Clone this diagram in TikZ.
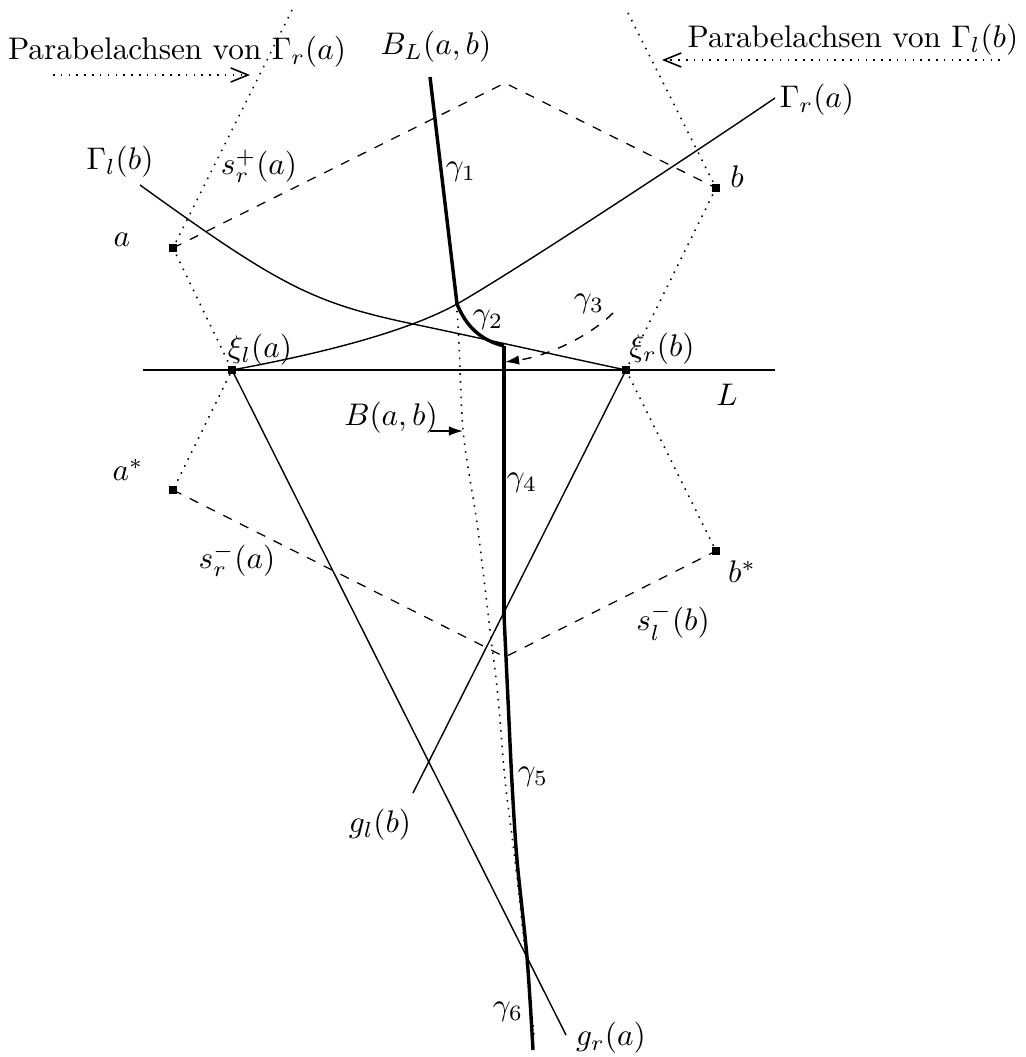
\documentclass[tikz,border=0pt]{standalone}
\usetikzlibrary{arrows.meta}
\begin{document}
\begin{tikzpicture}[x=0.32pt,y=-0.32pt,
  pt/.style={rectangle,fill=black,inner sep=0pt,minimum size=2.6pt},
  lbl/.style={inner sep=0pt},
  axisline/.style={dotted,line width=0.5pt},
  hull/.style={dashed,line width=0.4pt},
  curveline/.style={line width=0.45pt},
  bisect/.style={line width=1.1pt},
  pointer/.style={-{Latex[length=4.5pt,width=3pt]},line width=0.45pt},
  axpointer/.style={dotted,line width=0.5pt,-{Straight Barb[length=5.5pt,width=4.5pt]}}]
\useasboundingbox (0,0) rectangle (1025,1057);

% points
\node[pt] (a) at (173,248) {};
\node[pt] (b) at (716,188) {};
\node[pt] (as) at (173,490) {};
\node[pt] (bs) at (716,551) {};
\node[pt] (xl) at (232,370) {};
\node[pt] (xr) at (626,370) {};
\coordinate (top) at (505,83);
\coordinate (bot) at (505,657);
\coordinate (axa) at (292,10);
\coordinate (axb) at (628,13);
\coordinate (L1) at (143,370);
\coordinate (L2) at (775,370);
\coordinate (glend) at (413,793);
\coordinate (grend) at (566,1035);
\coordinate (Glstart) at (140,185);
\coordinate (Glmid) at (413,324);
\coordinate (Grend) at (775,98);
\coordinate (j12) at (457,304);
\coordinate (j24) at (504,346);
\coordinate (j45) at (504,615);

% line L
\draw[line width=0.8pt] (L1) -- (L2);

% dashed hulls
\draw[hull] (a.center) -- (top) -- (b.center);
\draw[hull] (as.center) -- (bot) -- (bs.center);

% parabola axes (dotted)
\draw[axisline] (axa) -- (a.center) -- (xl.center) -- (as.center);
\draw[axisline] (axb) -- (b.center) -- (xr.center) -- (bs.center);

% Gamma_l(b)
\draw[curveline] (Glstart) .. controls (280,286) and (313,303) .. (Glmid)
  .. controls (480,338) and (560,356) .. (xr.center);
% Gamma_r(a)
\draw[curveline] (xl.center) .. controls (330,352) and (410,330) .. (j12)
  .. controls (510,274) and (690,156) .. (Grend);

% g lines
\draw[curveline] (xl.center) -- (grend);
\draw[curveline] (xr.center) -- (glend);

% B(a,b) dotted
\draw[axisline] plot[smooth] coordinates {(430,78) (456,300) (463,430) (477,523) (490,630) (498,697) (505,780) (515,860) (525,950) (534,1035)};

% B_L(a,b) thick pieces
\draw[bisect] (430,77) -- (j12);
\draw[bisect] (j12) .. controls (466,326) and (480,340) .. (j24);
\draw[bisect] (j24) -- (j45);
\draw[bisect] plot[smooth] coordinates {(504,615) (508,700) (512,783) (517,860) (527,957) (533,1050)};

% gamma3 arrow
\draw[pointer,dashed] (613,313) .. controls (590,336) and (548,356) .. (505,362);

% B(a,b) arrow
\coordinate (bab1) at (430,431);
\coordinate (bab2) at (463,431);
\draw[pointer] (bab1) -- (bab2);

% Parabelachsen arrows
\coordinate (pl1) at (53,75);
\coordinate (pl2) at (250,75);
\coordinate (pr1) at (1000,60);
\coordinate (pr2) at (662,60);
\draw[axpointer] (pl1) -- (pl2);
\draw[axpointer] (pr1) -- (pr2);

% labels
\node[lbl] (tpl) at (177,52) {Parabelachsen von $\Gamma_r(a)$};
\node[lbl] (tpr) at (853,40) {Parabelachsen von $\Gamma_l(b)$};
\node[lbl] (tBL) at (436,47) {$B_L(a,b)$};
\node[lbl] (tGr) at (817,100) {$\Gamma_r(a)$};
\node[lbl] (tGl) at (120,162) {$\Gamma_l(b)$};
\node[lbl] (tsp) at (259,166) {$s_r^+(a)$};
\node[lbl] (tg1) at (461,172) {$\gamma_1$};
\node[lbl] (ta) at (122,240) {$a$};
\node[lbl] (tb) at (737,177) {$b$};
\node[lbl] (tg2) at (488,320) {$\gamma_2$};
\node[lbl] (tg3) at (589,304) {$\gamma_3$};
\node[lbl] (txl) at (260,350) {$\xi_l(a)$};
\node[lbl] (txr) at (662,349) {$\xi_r(b)$};
\node[lbl] (tL) at (727,395) {$L$};
\node[lbl] (tB) at (391,418) {$B(a,b)$};
\node[lbl] (tas) at (128,470) {$a^*$};
\node[lbl] (tg4) at (522,483) {$\gamma_4$};
\node[lbl] (tsm) at (237,560) {$s_r^-(a)$};
\node[lbl] (tbs) at (742,572) {$b^*$};
\node[lbl] (tslm) at (673,622) {$s_l^-(b)$};
\node[lbl] (tgl) at (380,825) {$g_l(b)$};
\node[lbl] (tg5) at (533,777) {$\gamma_5$};
\node[lbl] (tg6) at (508,1012) {$\gamma_6$};
\node[lbl] (tgr) at (611,1038) {$g_r(a)$};
\end{tikzpicture}
\end{document}
